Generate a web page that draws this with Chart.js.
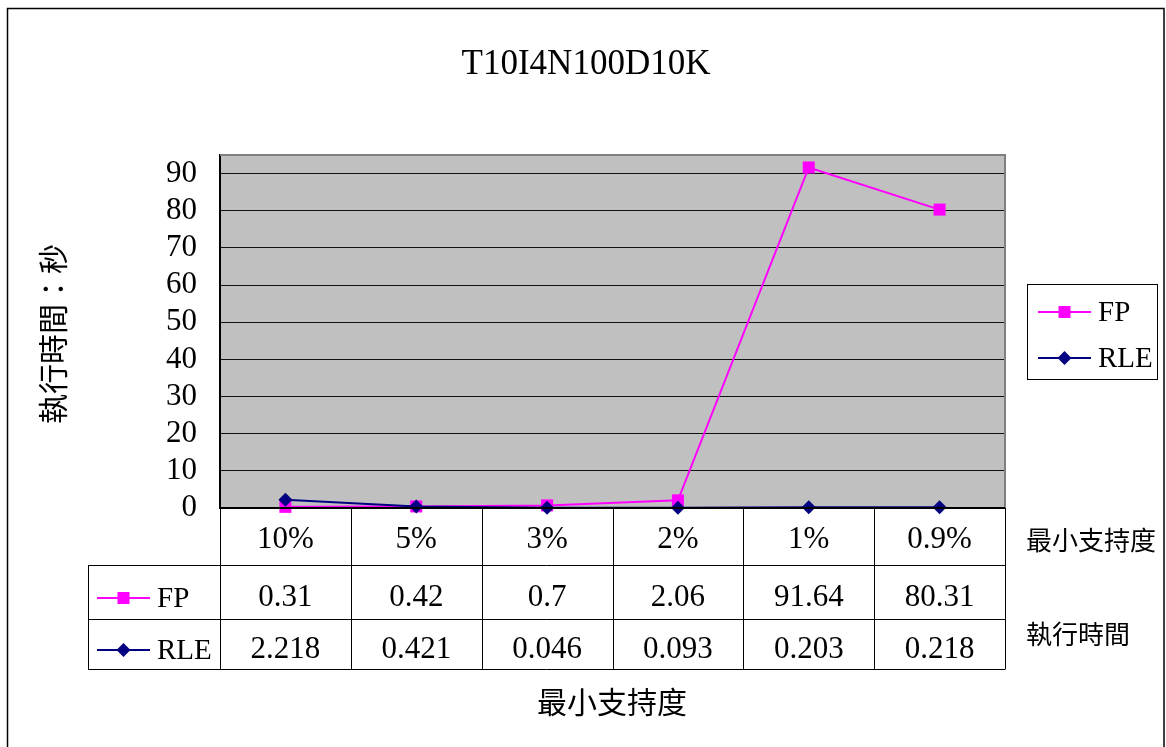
<!DOCTYPE html>
<html lang="zh-Hant">
<head>
<meta charset="utf-8">
<title>T10I4N100D10K</title>
<script src="https://cdn.jsdelivr.net/npm/chart.js"></script>
<style>
  html, body { margin: 0; padding: 0; background: #fff; }
  canvas { display: block; }
</style>
</head>
<body>
<canvas id="timeChart" width="1166" height="747"></canvas>
<script>
// minimum support levels and run times (seconds)
const supportLevels = ['10%', '5%', '3%', '2%', '1%', '0.9%'];
const fpTimes = [0.31, 0.42, 0.7, 2.06, 91.64, 80.31];
const rleTimes = [2.218, 0.421, 0.046, 0.093, 0.203, 0.218];
const fpLabels = ['0.31', '0.42', '0.7', '2.06', '91.64', '80.31'];
const rleLabels = ['2.218', '0.421', '0.046', '0.093', '0.203', '0.218'];
const yTicks = [0, 10, 20, 30, 40, 50, 60, 70, 80, 90];

const SERIF = '"Liberation Serif", "Times New Roman", serif';
const CJK = '"Noto Sans CJK TC", "Noto Sans CJK SC", sans-serif';
const FP_COLOR = '#ff00ff';
const RLE_COLOR = '#000080';

// table rows under the plot
const ROW_Y = [508, 565, 619, 669];
const TABLE_LEFT = 88;

function legendKey(ctx, x, y, color, style) {
  ctx.save();
  ctx.strokeStyle = color;
  ctx.lineWidth = 2;
  ctx.beginPath();
  ctx.moveTo(x, y);
  ctx.lineTo(x + 53, y);
  ctx.stroke();
  ctx.fillStyle = color;
  const cx = x + 26.5;
  if (style === 'rect') {
    ctx.fillRect(cx - 6, y - 6, 12, 12);
  } else {
    ctx.beginPath();
    ctx.moveTo(cx, y - 7);
    ctx.lineTo(cx + 7, y);
    ctx.lineTo(cx, y + 7);
    ctx.lineTo(cx - 7, y);
    ctx.closePath();
    ctx.fill();
  }
  ctx.restore();
}

const excelDecor = {
  id: 'excelDecor',
  beforeDraw(chart) {
    const { ctx, chartArea: a } = chart;
    ctx.save();
    ctx.fillStyle = '#fff';
    ctx.fillRect(0, 0, chart.width, chart.height);
    // outer frame
    ctx.strokeStyle = '#000';
    ctx.lineWidth = 1.5;
    ctx.strokeRect(7.5, 8.5, 1156.5, 760);
    // plot background
    ctx.fillStyle = '#c0c0c0';
    ctx.fillRect(a.left, a.top, a.right - a.left, a.bottom - a.top);
    ctx.restore();
  },
  beforeDatasetsDraw(chart) {
    const { ctx, chartArea: a } = chart;
    ctx.save();
    ctx.strokeStyle = '#808080';
    ctx.lineWidth = 2;
    ctx.beginPath();
    ctx.moveTo(a.left, a.top);
    ctx.lineTo(a.right, a.top);
    ctx.lineTo(a.right, a.bottom);
    ctx.stroke();
    ctx.restore();
  },
  afterDraw(chart) {
    const { ctx, chartArea: a } = chart;
    const xs = chart.scales.x;
    const step = (a.right - a.left) / supportLevels.length;
    ctx.save();

    // title
    ctx.fillStyle = '#000';
    ctx.textAlign = 'center';
    ctx.textBaseline = 'middle';
    ctx.font = '35px ' + SERIF;
    ctx.fillText('T10I4N100D10K', 586, 65);

    // y axis title
    ctx.save();
    ctx.translate(53, 334);
    ctx.rotate(-Math.PI / 2);
    ctx.font = '30px ' + CJK;
    ctx.fillText('執行時間：秒', 0, 0);
    ctx.restore();

    // x axis title
    ctx.font = '30px ' + CJK;
    ctx.fillText('最小支持度', 612, 702);

    // data table grid
    ctx.strokeStyle = '#000';
    ctx.lineWidth = 1;
    ctx.beginPath();
    for (let i = 0; i <= supportLevels.length; i++) {
      const x = Math.round(a.left + i * step) + 0.5;
      ctx.moveTo(x, ROW_Y[0]);
      ctx.lineTo(x, ROW_Y[3]);
    }
    for (let r = 1; r < ROW_Y.length; r++) {
      ctx.moveTo(TABLE_LEFT, ROW_Y[r] + 0.5);
      ctx.lineTo(Math.round(a.right) + 0.5, ROW_Y[r] + 0.5);
    }
    ctx.moveTo(TABLE_LEFT + 0.5, ROW_Y[1]);
    ctx.lineTo(TABLE_LEFT + 0.5, ROW_Y[3]);
    ctx.stroke();
    ctx.lineWidth = 2;
    ctx.beginPath();
    ctx.moveTo(a.left, ROW_Y[0]);
    ctx.lineTo(a.right, ROW_Y[0]);
    ctx.stroke();

    // table text
    ctx.font = '31px ' + SERIF;
    supportLevels.forEach((lab, i) => {
      const cx = xs.getPixelForValue(i);
      ctx.fillText(lab, cx, 540);
      ctx.fillText(fpLabels[i], cx, 598);
      ctx.fillText(rleLabels[i], cx, 650);
    });

    // series keys in the table
    legendKey(ctx, 97, 598, FP_COLOR, 'rect');
    legendKey(ctx, 97, 650, RLE_COLOR, 'diamond');
    ctx.textAlign = 'left';
    ctx.font = '29px ' + SERIF;
    ctx.fillText('FP', 157, 599);
    ctx.fillText('RLE', 157, 651);

    // labels to the right of the table
    ctx.font = '26px ' + CJK;
    ctx.fillText('最小支持度', 1026, 540);
    ctx.fillText('執行時間', 1026, 634);

    // legend box
    ctx.lineWidth = 1;
    ctx.strokeStyle = '#000';
    ctx.strokeRect(1027.5, 284.5, 130, 95);
    legendKey(ctx, 1038, 312, FP_COLOR, 'rect');
    legendKey(ctx, 1038, 358, RLE_COLOR, 'diamond');
    ctx.font = '29px ' + SERIF;
    ctx.fillText('FP', 1098, 313);
    ctx.fillText('RLE', 1098, 359);

    ctx.restore();
  }
};

new Chart(document.getElementById('timeChart'), {
  type: 'line',
  data: {
    labels: supportLevels,
    datasets: [
      {
        label: 'FP',
        data: fpTimes,
        borderColor: FP_COLOR,
        backgroundColor: FP_COLOR,
        borderWidth: 2,
        pointStyle: 'rect',
        pointRadius: 8.5,
        pointBorderWidth: 0,
        tension: 0,
        clip: false,
        order: 1
      },
      {
        label: 'RLE',
        data: rleTimes,
        borderColor: RLE_COLOR,
        backgroundColor: RLE_COLOR,
        borderWidth: 2,
        pointStyle: 'rectRot',
        pointRadius: 7,
        pointBorderWidth: 0,
        tension: 0,
        clip: false,
        order: 0
      }
    ]
  },
  options: {
    responsive: false,
    animation: false,
    devicePixelRatio: 1,
    layout: { padding: { left: 0, top: 155, right: 161, bottom: 239 } },
    plugins: {
      legend: { display: false },
      title: { display: false },
      tooltip: { enabled: false }
    },
    scales: {
      x: {
        type: 'category',
        display: false,
        offset: true
      },
      y: {
        min: 0,
        max: 95,
        ticks: {
          color: '#000',
          padding: 23,
          autoSkip: false,
          font: { family: SERIF, size: 31 }
        },
        grid: { color: '#111', lineWidth: 1, drawTicks: false },
        border: { color: '#000', width: 2 },
        afterBuildTicks(scale) {
          scale.ticks = yTicks.map(v => ({ value: v }));
        },
        afterFit(scale) {
          scale.width = 220;
        }
      }
    }
  },
  plugins: [excelDecor]
});
</script>
</body>
</html>
